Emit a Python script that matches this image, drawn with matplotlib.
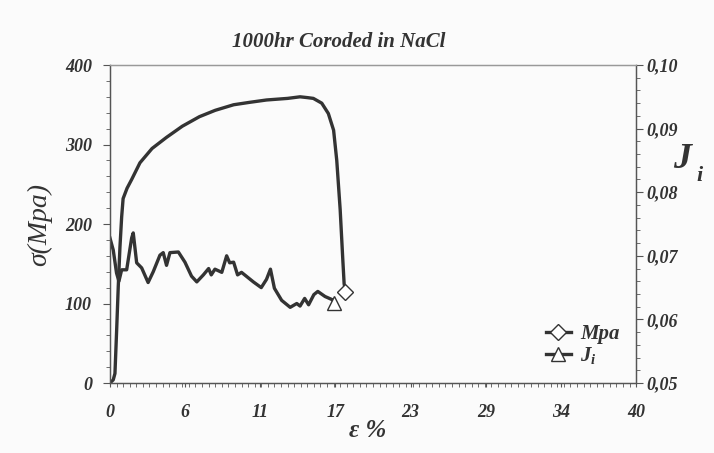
import numpy as np
import matplotlib
matplotlib.use("Agg")
import matplotlib.pyplot as plt
from matplotlib.ticker import MultipleLocator, FuncFormatter

plt.rcParams['font.family'] = ['Liberation Serif', 'DejaVu Serif']
plt.rcParams['font.weight'] = 'bold'
plt.rcParams['font.style'] = 'italic'
plt.rcParams['mathtext.fontset'] = 'custom'
plt.rcParams['mathtext.it'] = 'Liberation Serif:italic:bold'
plt.rcParams['mathtext.rm'] = 'Liberation Serif:italic:bold'

# stress curve (left axis, MPa)
strain_s = [0, 0.25, 0.38, 0.51, 0.63, 0.76, 0.89, 1.0, 1.3, 1.65, 2.28, 3.2, 4.3,
            5.5, 6.8, 8.0, 9.4, 10.6, 11.9, 13.5, 14.45, 15.0, 15.46, 16.1,
            16.6, 17.0, 17.24, 17.5, 17.7, 17.8, 17.9]
stress = [0, 4, 12, 67, 121, 171, 209, 232, 245, 256, 277, 295, 309,
          323, 335, 343, 350, 353, 356, 358, 360, 359, 358, 352,
          339, 318, 280, 218, 155, 125, 115]

# J_i curve (right axis)
strain_j = [0, 0.25, 0.5, 0.68, 0.89, 1.27, 1.65, 1.77, 2.03, 2.41, 2.9, 3.29,
            3.8, 4.05, 4.3, 4.56, 5.2, 5.7, 6.2, 6.6, 7.1, 7.5, 7.7, 7.98,
            8.5, 8.87, 9.1, 9.4, 9.7, 10.0, 10.9, 11.5, 11.9, 12.2, 12.5,
            13.05, 13.7, 14.2, 14.45, 14.8, 15.1, 15.5, 15.8, 16.35, 16.9, 17.06]
j_vals = [0.0728, 0.0709, 0.0673, 0.0660, 0.0678, 0.0678, 0.0728, 0.0736,
          0.0689, 0.0681, 0.0658, 0.0675, 0.0701, 0.0705, 0.0685, 0.0705,
          0.0706, 0.0690, 0.0668, 0.0659, 0.0670, 0.0680, 0.0670, 0.0679,
          0.0674, 0.0700, 0.0689, 0.0690, 0.0670, 0.0674, 0.0659, 0.0650,
          0.0663, 0.0679, 0.0649, 0.0630, 0.0619, 0.0625, 0.0621, 0.0633,
          0.0623, 0.0639, 0.0644, 0.0636, 0.0631, 0.0626]

x_ticks = np.arange(8) * 40 / 7
x_labels = ["0", "6", "11", "17", "23", "29", "34", "40"]

line_col = "#333333"
fig = plt.figure(figsize=(7.14, 4.53), dpi=100)
fig.patch.set_facecolor("#fbfbfb")
ax = fig.add_axes([0.154, 0.1545, 0.737, 0.702])
ax.set_facecolor("#fbfbfb")
ax2 = ax.twinx()

l1, = ax.plot(strain_s, stress, color=line_col, lw=2.4, marker="D", ms=8,
              mfc="white", mec=line_col, mew=1.0, markevery=[-1], label="Mpa")
l2, = ax2.plot(strain_j, j_vals, color=line_col, lw=2.4, marker="^", ms=10,
               mfc="white", mec=line_col, mew=1.0, markevery=[-1], label="$J_i$")

ax.set_xlim(0, 40)
ax.set_ylim(0, 400)
ax2.set_ylim(0.05, 0.10)

ax.set_xticks(x_ticks)
ax.set_xticklabels(x_labels)
ax.xaxis.set_minor_locator(MultipleLocator(0.5))
ax.yaxis.set_major_locator(MultipleLocator(100))
ax.yaxis.set_minor_locator(MultipleLocator(20))
ax2.yaxis.set_major_locator(MultipleLocator(0.01))
ax2.yaxis.set_minor_locator(MultipleLocator(0.002))
ax2.yaxis.set_major_formatter(FuncFormatter(lambda v, p: f"{v:.2f}".replace(".", ",")))

for a in (ax, ax2):
    for s in a.spines.values():
        s.set_color("#555555")
        s.set_linewidth(0.9)
    a.tick_params(which="both", direction="out", colors="#555555",
                  labelcolor="#333333", labelsize=13)
    a.tick_params(which="major", length=5)
    a.tick_params(which="minor", length=3)
ax.tick_params(axis="x", which="major", length=3, pad=12)
ax.tick_params(axis="y", pad=8)
ax2.tick_params(axis="y", pad=2)
ax.spines["top"].set_color("#999999")
ax2.spines["top"].set_color("#999999")

ax.set_ylabel("σ(Mpa)", fontsize=20, color="#333333", labelpad=9)
fig.text(0.515, 0.05, "ε %", fontsize=18, color="#333333", ha="center", va="center")
fig.text(0.955, 0.647, "J", fontsize=26, color="#333333", ha="center", va="center")
fig.text(0.98, 0.612, "i", fontsize=16, color="#333333", ha="center", va="center")
fig.text(0.475, 0.907, "1000hr Coroded in NaCl", fontsize=15, color="#333333",
         ha="center", va="center")

ax.legend(handles=[l1, l2], loc="lower right", frameon=False, fontsize=15,
          handlelength=1.2, handletextpad=0.45, labelspacing=0.05,
          borderaxespad=0.4, labelcolor="#333333")

fig.savefig("out.png", dpi=100, facecolor=fig.get_facecolor())
